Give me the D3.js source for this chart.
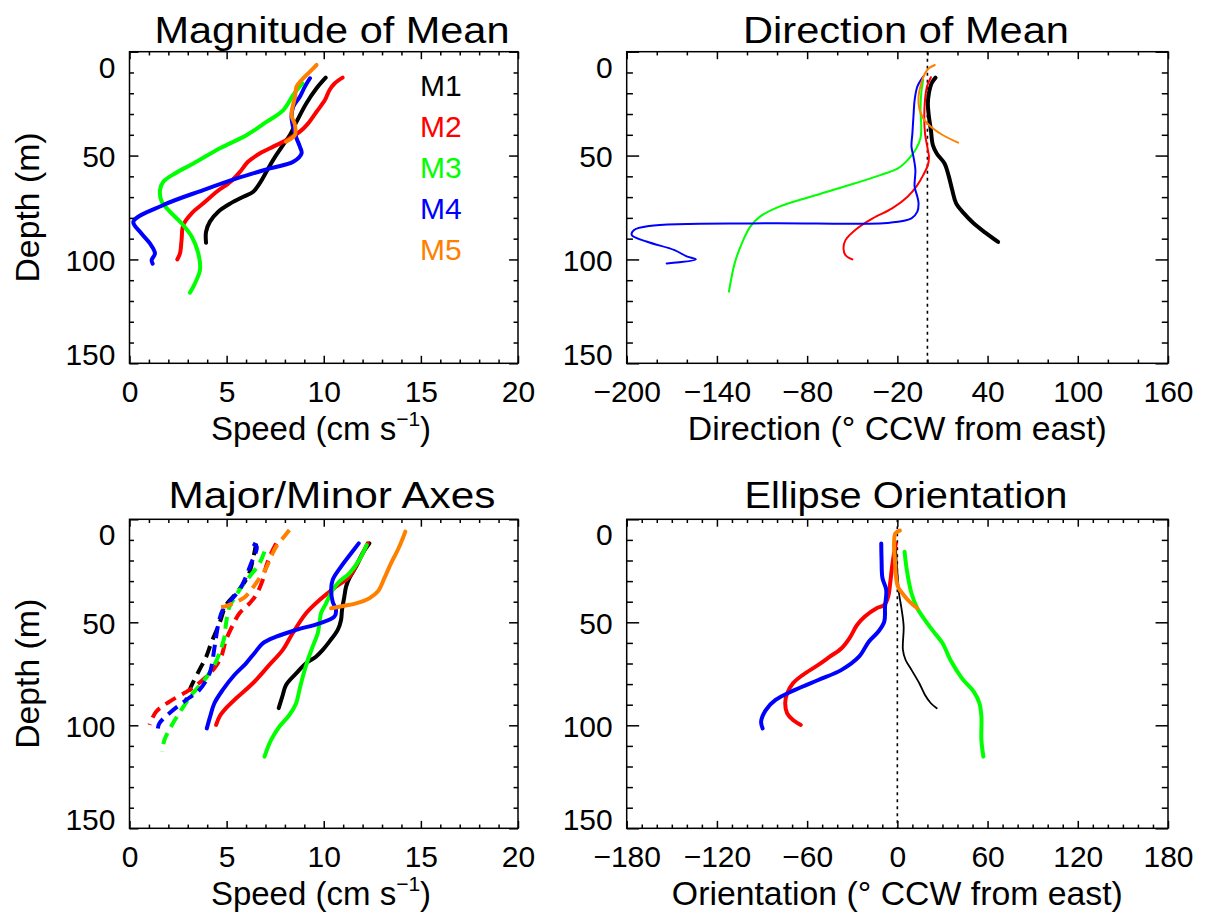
<!DOCTYPE html>
<html><head><meta charset="utf-8">
<script src="https://cdn.jsdelivr.net/npm/d3@7"></script>
<style>
body{margin:0;background:#fff}
svg{display:block}
text{font-family:"Liberation Sans",Arial,sans-serif;fill:#000}
</style>
</head><body>
<svg id="c" width="1207" height="916"></svg>
<script>
// ---------------- DATA ----------------
const seriesNames = ["M1","M2","M3","M4","M5"];
const seriesColors = ["#000000","#ff0000","#00ff00","#0000ff","#ff8000"];
const depthMajorTicks = [0,50,100,150];
const speedMajorTicks = [0,5,10,15,20];
const directionMajorTicks = [-200,-140,-80,-20,40,100,160];
const orientationMajorTicks = [-180,-120,-60,0,60,120,180];

// Magnitude of mean: [speed cm/s, depth m]
const magM1 = [[10.1,12.5],[9.63,17.6],[9.1,24.9],[8.6,33.7],[8.26,40.1],[7.9,45],[7.5,50.5],[7.14,56.2],[6.7,63.4],[6.37,67.4],[5.86,69.8],[5.2,73],[4.57,77],[4.14,81.8],[3.94,86.7],[3.94,92]];
const magM2 = [[10.97,12.5],[10.57,15.2],[10.3,18.4],[10.06,23.3],[9.63,28.9],[9.2,34.5],[8.77,38.5],[8.09,42.5],[7.4,45.7],[6.7,49],[6.1,53],[5.69,57.8],[5.2,62.6],[4.49,67.4],[3.8,73],[3.2,77.8],[2.77,83.4],[2.68,90.7],[2.6,97],[2.46,100]];
const magM3 = [[8.9,15.2],[8.43,20.8],[7.92,28.1],[7.07,33.7],[6.04,40.1],[4.66,46.5],[3.29,53.8],[2.34,58.6],[1.74,62.6],[1.57,66.6],[1.66,72.2],[2.08,77],[2.68,82.6],[3.2,89],[3.54,97],[3.63,105],[3.37,111.5],[3.11,116]];
const magM4 = [[9.29,12.8],[9.03,16.8],[8.77,21.7],[8.43,26.5],[8.34,31.3],[8.46,37.7],[8.6,41.7],[8.77,45.7],[8.86,48.9],[8.43,53],[7.23,56.2],[5.52,61],[3.8,66.6],[1.74,73.8],[0.2,81.8],[0.54,86.7],[1.05,92.3],[1.31,97.1],[1.14,100.3],[1.19,102]];
const magM5 = [[9.63,6.4],[9.29,9.6],[8.86,13.6],[8.6,16.8],[8.52,21.7],[8.34,30.5],[8.52,35.3],[8.52,40.1],[8.34,41.7],[8.05,43.3]];

// Direction of mean: [deg CCW from east, depth m]
const dirM1 = [[5.4,12.5],[2.8,15.2],[1.0,20],[0.3,24.9],[1.0,31.3],[2.3,37.7],[3.6,44.9],[6.2,49],[11.4,53.8],[14,59.4],[16.5,66.6],[19.1,73],[24.3,77.8],[30.7,82.6],[38.5,87.1],[47,91.6]];
const dirM2 = [[2.3,12.3],[-0.3,16.8],[-1.6,23.3],[-2.1,31.3],[-1.6,39.3],[0.3,47.3],[1.0,50.5],[0.3,54.6],[-2.8,59.4],[-6.7,64.2],[-13.2,69.8],[-23.5,75.4],[-36.4,80.2],[-46.8,85.1],[-54.5,90.7],[-55.8,94.7],[-54.5,97.9],[-49.9,100]];
const dirM3 = [[-2.8,13.6],[-4.1,20],[-4.6,28.1],[-4.1,36.1],[-4.6,41.7],[-8,47.3],[-13.2,52.2],[-19.6,56.2],[-31.3,59.4],[-51.9,64.2],[-77.8,69.8],[-98.5,74.6],[-111.4,79.4],[-117.8,84.2],[-123,91.5],[-128.2,101.9],[-132,115.5]];
const dirM4 = [[-2.8,12],[-6.7,16.8],[-8.5,23.3],[-9.3,31.3],[-10,39.3],[-10.6,45.7],[-9.3,50.5],[-8,57],[-8.5,65],[-6.7,69.8],[-5.9,73],[-6.7,77],[-10.6,80.2],[-24.8,82.3],[-108.8,82.6],[-185,83.9],[-195.3,85.9],[-196.6,88.3],[-186.3,91.5],[-168.2,95.5],[-160.5,98.4],[-154,100],[-173.4,101.9]];
const dirM5 = [[4.9,6.4],[1.0,8],[-1.6,10.4],[-4.1,15.2],[-5.9,21.7],[-5.4,27.3],[-2.8,32.1],[2.3,36.1],[10.1,40.1],[20.4,43.8]];

// Major axis (solid): [speed, depth]
const majM1 = [[12.35,11.7],[12.0,16.5],[11.66,23],[11.32,28.6],[11.15,32.7],[11.06,37.5],[10.94,44],[10.89,48.9],[10.72,53.7],[10.29,59.4],[9.95,63.4],[9.6,66.7],[9.09,69.9],[8.58,74.8],[8.06,80.4],[7.89,85.3],[7.68,91.7]];
const majM2 = [[12.26,11.7],[11.83,19.7],[11.32,27.8],[10.63,32.7],[9.78,39.2],[9.09,45.6],[8.4,55.3],[7.89,63.4],[7.2,70.7],[6.35,79.6],[5.49,86.9],[4.97,91.7],[4.63,95.8],[4.46,99.8]];
const majM3 = [[12.21,12.5],[11.83,19.7],[11.32,26.2],[10.8,30.3],[10.46,34.3],[10.12,40.8],[9.86,45.6],[9.78,50.5],[9.69,55.3],[9.43,61.8],[9.18,68.3],[8.92,76.4],[8.75,82.8],[8.58,89.3],[8.23,95],[7.72,100.6],[7.29,107.1],[6.95,115.2]];
const majM4 = [[11.8,11.7],[11.41,16.5],[10.89,23],[10.46,29.4],[10.38,34.3],[10.46,40],[10.63,44],[10.55,47.2],[9.78,50.5],[8.58,53.7],[7.55,57],[6.86,60.2],[6.43,65],[6.0,69.9],[5.4,75.6],[4.8,82.8],[4.37,89.3],[4.15,95.8],[3.98,101.5]];
const majM5 = [[14.2,6],[14.07,9.2],[13.81,14.9],[13.46,21.4],[13.12,28.6],[12.78,35.1],[12.35,38.3],[11.66,40.8],[10.98,42.1],[10.38,43.2]];
// Minor axis (dashed): [speed, depth]
const minM1 = [[6.52,11.7],[6.35,19.7],[6.09,27.8],[5.49,35.9],[4.97,41.6],[4.63,50.5],[4.2,60.2],[3.95,66.7],[3.6,73.1],[3.17,81.2],[2.92,87.7]];
const minM2 = [[7.55,11.7],[7.29,16.5],[7.03,23],[6.86,29.4],[6.52,36.7],[6.18,40.8],[5.66,45.6],[5.32,51.3],[4.97,58.6],[4.72,66.7],[4.37,72.3],[3.77,78],[3.09,82.8],[2.06,88.5],[1.37,93.4],[1.03,99.8]];
const minM3 = [[6.95,15.7],[6.69,21.4],[6.18,27.8],[5.83,31.9],[5.4,38.3],[5.15,42.4],[4.97,50.5],[4.89,57],[4.63,65],[4.37,70.7],[3.86,78],[3.26,84.5],[2.66,92.6],[2.14,100.6],[1.8,107.1],[1.68,112.8]];
const minM4 = [[6.35,11.7],[6.55,13.3],[6.48,16.5],[6.26,21.4],[6.0,27.8],[5.66,34.3],[5.23,39.2],[4.8,44],[4.6,49.7],[4.46,57],[4.37,62.6],[4.12,74.8],[3.6,82.8],[2.92,87.7],[2.14,93.4],[1.54,99],[1.46,101.5]];
const minM5 = [[8.23,5.2],[7.89,9.2],[7.55,13.3],[7.29,18.1],[7.03,23.8],[6.69,28.6],[6.26,34.3],[5.92,37.9],[5.4,40.5],[4.89,42.4],[4.55,42.7]];

// Ellipse orientation: [deg CCW from east, depth]
const oriM1 = [[-1,11.7],[-0.4,21.4],[0.6,31],[1.1,35.9],[2.9,44],[4.2,52.1],[3.7,63.4],[5.5,68.3],[9.4,73.1],[14.6,79.6],[18.4,85.3],[22.3,89.3],[26.2,91.7]];
const oriM2 = [[-1,11.7],[-2.2,16.5],[-3.5,23],[-4.8,31.1],[-6.1,37.5],[-8.7,41.6],[-13.8,43.2],[-21.6,47.2],[-26.8,51.3],[-31.9,57.8],[-37.1,62.6],[-44.9,66.7],[-52.6,70.7],[-63,75.6],[-69.4,79.6],[-73.3,84.5],[-74.6,89.3],[-73.3,94.2],[-69.4,97.4],[-64.2,99.8]];
const oriM3 = [[4.8,15.7],[6.3,24.6],[9.4,35.9],[13.3,43.2],[18.4,48.9],[24.9,55.3],[30.1,60.2],[35.3,68.3],[43,77.2],[50.8,83.7],[54.6,89.3],[55.9,95.8],[55.9,107.1],[57.2,115.2]];
const oriM4 = [[-10.7,11.7],[-10.5,19.7],[-9.9,28.6],[-7.4,34.3],[-8.2,42.4],[-8.7,49.7],[-12.6,54.5],[-19,59.4],[-25.5,66.7],[-37.1,73.1],[-52.6,78],[-68.1,82.8],[-81,87.7],[-87.5,92.6],[-90.6,98.2],[-89.6,101.5]];
const oriM5 = [[1.7,5.5],[-1.3,6.8],[-2.2,11.7],[-1.6,19.7],[-0.9,27.8],[0.4,32.7],[4.2,36.7],[8.1,40],[13.3,43.2]];

// ---------------- DRAWING ----------------
const svg = d3.select("#c");
const C = seriesColors;
const mk = (arrs, widths, dash) => arrs.map((a,i)=>({data:a,color:C[i],width:widths[i],dash:dash}));

const panels = [
  {title:"Magnitude of Mean", titleX:332, titleLen:355, titleY:43,
   left:129.5, right:518, top:51.7, bottom:363.3, ylab:true,
   domain:[0,20], major:speedMajorTicks, minorStep:1, zero:false, xlab:"speed",
   series: mk([magM1,magM2,magM3,magM4,magM5],[4,4,4,4,4])},
  {title:"Direction of Mean", titleX:906, titleLen:326, titleY:43,
   left:626.7, right:1168, top:51.7, bottom:363.3, ylab:false,
   domain:[-200,160], major:directionMajorTicks, minorStep:20, zero:true, xlab:"Direction (° CCW from east)", xlabLen:419,
   series: mk([dirM1,dirM2,dirM3,dirM4,dirM5],[4,2,2,2,2])},
  {title:"Major/Minor Axes", titleX:332, titleLen:327, titleY:508,
   left:129.5, right:518, top:519.3, bottom:828.3, ylab:true,
   domain:[0,20], major:speedMajorTicks, minorStep:1, zero:false, xlab:"speed",
   series: mk([minM1,minM2,minM3,minM4,minM5],[4,4,4,4,4],"12,7").concat(mk([majM1,majM2,majM3,majM4,majM5],[4,4,4,4,4]))},
  {title:"Ellipse Orientation", titleX:906, titleLen:323, titleY:508,
   left:626.7, right:1168, top:519.3, bottom:828.3, ylab:false,
   domain:[-180,180], major:orientationMajorTicks, minorStep:10, zero:true, xlab:"Orientation (° CCW from east)", xlabLen:451,
   series: mk([oriM1,oriM2,oriM3,oriM4,oriM5],[1.8,4,4,4,4])}
];

panels.forEach(p => {
  const x = d3.scaleLinear().domain(p.domain).range([p.left,p.right]);
  const y = d3.scaleLinear().domain([0,150]).range([p.top,p.bottom]);
  const g = svg.append("g");
  const W = p.right-p.left, H = p.bottom-p.top;
  const xMaj = 0.024*H, xMin = xMaj/2, yMaj = 0.023*W, yMin = yMaj/2;

  if (p.zero) {
    g.append("line").attr("x1",x(0)).attr("x2",x(0)).attr("y1",p.top).attr("y2",p.bottom)
      .attr("stroke","#000").attr("stroke-width",1.6).attr("stroke-dasharray","3,4");
  }
  const line = d3.line().x(d=>x(d[0])).y(d=>y(d[1])).curve(d3.curveCatmullRom.alpha(0.5));
  p.series.forEach(s => {
    g.append("path").attr("d",line(s.data)).attr("fill","none")
      .attr("stroke",s.color).attr("stroke-width",s.width)
      .attr("stroke-linejoin","round")
      .attr("stroke-linecap", s.dash ? "butt" : "round")
      .attr("stroke-dasharray", s.dash || null);
  });

  // frame
  g.append("rect").attr("x",p.left).attr("y",p.top).attr("width",W).attr("height",H)
    .attr("fill","none").attr("stroke","#000").attr("stroke-width",1.5);

  const minorX = d3.range(p.domain[0], p.domain[1]+1e-6, p.minorStep).filter(v=>!p.major.includes(v));
  const minorY = d3.range(0,151,10).filter(v=>!depthMajorTicks.includes(v));

  const style = sel => { sel.select(".domain").remove(); sel.selectAll("line").attr("stroke","#000").attr("stroke-width",1.5); sel.attr("font-family",null).attr("font-size",null); };

  // bottom
  const bx = g.append("g").attr("transform",`translate(0,${p.bottom})`)
    .call(d3.axisBottom(x).tickValues(p.major).tickSize(-xMaj).tickPadding(17.5).tickFormat(d3.format("d")));
  style(bx); bx.selectAll("text").style("font-size","30px");
  const bxm = g.append("g").attr("transform",`translate(0,${p.bottom})`)
    .call(d3.axisBottom(x).tickValues(minorX).tickSize(-xMin).tickFormat(""));
  style(bxm);
  // top
  const tx = g.append("g").attr("transform",`translate(0,${p.top})`)
    .call(d3.axisTop(x).tickValues(p.major).tickSize(-xMaj).tickFormat(""));
  style(tx);
  const txm = g.append("g").attr("transform",`translate(0,${p.top})`)
    .call(d3.axisTop(x).tickValues(minorX).tickSize(-xMin).tickFormat(""));
  style(txm);
  // left
  const ly = g.append("g").attr("transform",`translate(${p.left},0)`)
    .call(d3.axisLeft(y).tickValues(depthMajorTicks).tickSize(-yMaj).tickPadding(14).tickFormat(d3.format("d")));
  style(ly);
  ly.selectAll("text").style("font-size","30px").attr("dy", d => d===0 ? "0.85em" : (d===150 ? "0.05em" : "0.36em"));
  const lym = g.append("g").attr("transform",`translate(${p.left},0)`)
    .call(d3.axisLeft(y).tickValues(minorY).tickSize(-yMin).tickFormat(""));
  style(lym);
  // right
  const ry = g.append("g").attr("transform",`translate(${p.right},0)`)
    .call(d3.axisRight(y).tickValues(depthMajorTicks).tickSize(-yMaj).tickFormat(""));
  style(ry);
  const rym = g.append("g").attr("transform",`translate(${p.right},0)`)
    .call(d3.axisRight(y).tickValues(minorY).tickSize(-yMin).tickFormat(""));
  style(rym);

  // title
  g.append("text").attr("x",p.titleX).attr("y",p.titleY).attr("text-anchor","middle")
    .attr("textLength",p.titleLen).attr("lengthAdjust","spacingAndGlyphs")
    .style("font-size","36px").text(p.title);

  // y label (left column only)
  if (p.ylab) {
    const cy = (p.top+p.bottom)/2;
    g.append("text").attr("transform",`translate(${p.left - 91},${cy}) rotate(-90)`).attr("text-anchor","middle")
      .attr("textLength",150).attr("lengthAdjust","spacingAndGlyphs")
      .style("font-size","33px").text("Depth (m)");
  }

  // x label
  const xl = p.bottom + 77;
  if (p.xlab === "speed") {
    const t = g.append("text").attr("x",321).attr("y",xl).attr("text-anchor","middle").style("font-size","33px");
    t.append("tspan").text("Speed (cm s");
    t.append("tspan").attr("dy",-14).style("font-size","21px").text("−1");
    t.append("tspan").attr("dy",14).text(")");
  } else {
    g.append("text").attr("x",(p.left+p.right)/2).attr("y",xl).attr("text-anchor","middle")
      .attr("textLength",p.xlabLen).attr("lengthAdjust","spacingAndGlyphs")
      .style("font-size","33px").text(p.xlab);
  }
});

// legend in first panel
const legBase = [96,137,178,219,260];
svg.append("g").selectAll("text").data(seriesNames).join("text")
  .attr("x",420).attr("y",(d,i)=>legBase[i])
  .style("fill",(d,i)=>seriesColors[i]).style("font-size","30px").text(d=>d);
</script>
</body></html>
